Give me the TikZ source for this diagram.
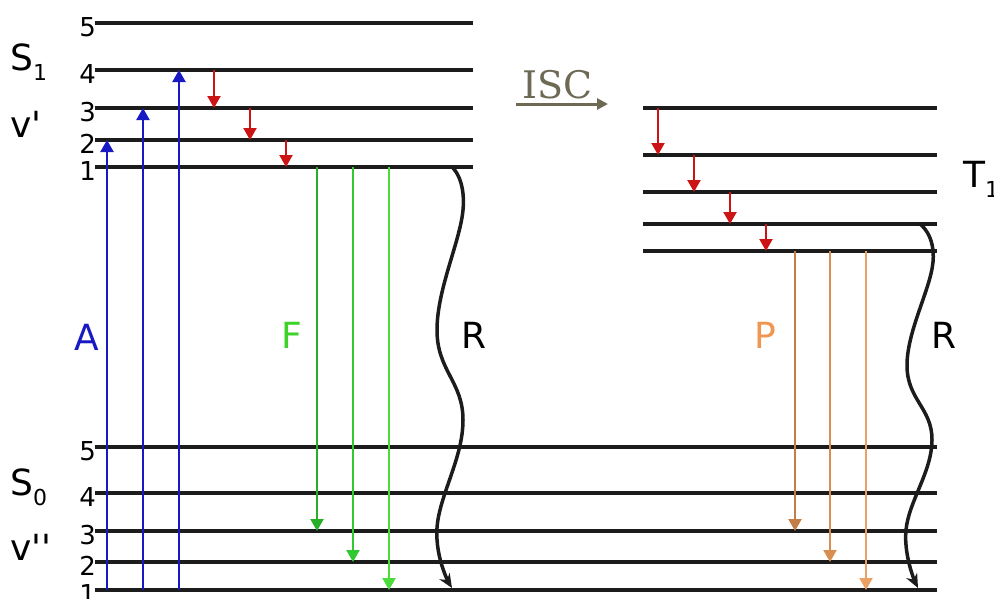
\documentclass[tikz,border=0pt]{standalone}
\usepackage{fontspec}
\setmainfont{DejaVu Sans}
\newfontfamily\iscfont{DejaVu Serif}
\usetikzlibrary{arrows.meta,calc}

\definecolor{lvl}{RGB}{28,28,28}
\definecolor{absblue}{RGB}{25,25,195}
\definecolor{vrred}{RGB}{205,20,20}
\definecolor{fgA}{RGB}{40,175,40}
\definecolor{fgB}{RGB}{50,200,50}
\definecolor{fgC}{RGB}{75,220,60}
\definecolor{flab}{RGB}{60,210,40}
\definecolor{phA}{RGB}{195,125,70}
\definecolor{phB}{RGB}{215,142,80}
\definecolor{phC}{RGB}{235,160,100}
\definecolor{plab}{RGB}{240,150,80}
\definecolor{iscgray}{RGB}{110,105,85}

\begin{document}
\begin{tikzpicture}[x=1pt,y=-1pt,
  level/.style={line width=4.5pt,color=lvl},
  num/.style={anchor=base east,inner sep=0pt,font=\fontsize{26}{28}\selectfont},
  biglab/.style={anchor=base,inner sep=0pt,font=\fontsize{36}{40}\selectfont},
  statelab/.style={anchor=base west,inner sep=0pt,font=\fontsize{36}{40}\selectfont},
  transition/.style={line width=2.2pt,-{Triangle[width=13pt,length=12pt]}},
  wave/.style={line width=3.5pt,color=lvl,-{Stealth[width=12pt,length=14pt]}},
]
\useasboundingbox (0,0) rectangle (994,598);

% ---- level anchors (left ends) ----
\foreach \n/\y in {5/23,4/70,3/108,2/140,1/167}
  \coordinate (S1-\n) at (95,\y);
\foreach \n/\y in {5/108,4/155,3/192,2/224,1/251}
  \coordinate (T1-\n) at (643,\y);
\foreach \n/\y in {5/447,4/493,3/531,2/562,1/590}
  \coordinate (S0-\n) at (95,\y);

% ---- levels ----
\foreach \n in {1,...,5}{
  \draw[level] (S1-\n) -- ++(378,0);
  \draw[level] (T1-\n) -- ++(294,0);
  \draw[level] (S0-\n) -- ++(842,0);
  \node[num] at ($(S1-\n)+(1,13)$) {\n};
  \node[num] at ($(S0-\n)+(1,13)$) {\n};
}

% ---- state labels ----
\node[statelab] (s1lab) at (10,70) {S\raisebox{-0.3em}{\fontsize{22}{24}\selectfont 1}};
\node[statelab] (v1lab) at (10,137) {v\textquotesingle};
\node[statelab] (s0lab) at (10,495) {S\raisebox{-0.3em}{\fontsize{22}{24}\selectfont 0}};
\node[statelab] (v0lab) at (10,560) {v\textquotesingle\textquotesingle};
\node[statelab] (t1lab) at (963,187) {T\raisebox{-0.3em}{\fontsize{22}{24}\selectfont 1}};

% ---- arrow columns ----
\foreach \c/\x in {a1/107,a2/143,a3/179,r1/214,r2/250,r3/286,f1/317,f2/353,f3/389,
                   t1/658,t2/694,t3/730,t4/766,p1/795,p2/830,p3/866}
  \coordinate (c\c) at (\x,0);

% absorption
\draw[transition,absblue] (ca1 |- S0-1) -- (ca1 |- S1-2);
\draw[transition,absblue] (ca2 |- S0-1) -- (ca2 |- S1-3);
\draw[transition,absblue] (ca3 |- S0-1) -- (ca3 |- S1-4);
\node[biglab,absblue] (Alab) at (87,350) {A};

% vibrational relaxation in S1
\draw[transition,vrred] (cr1 |- S1-4) -- (cr1 |- S1-3);
\draw[transition,vrred] (cr2 |- S1-3) -- (cr2 |- S1-2);
\draw[transition,vrred] (cr3 |- S1-2) -- (cr3 |- S1-1);

% fluorescence
\draw[transition,fgA] (cf1 |- S1-1) -- (cf1 |- S0-3);
\draw[transition,fgB] (cf2 |- S1-1) -- (cf2 |- S0-2);
\draw[transition,fgC] (cf3 |- S1-1) -- (cf3 |- S0-1);
\node[biglab,flab] (Flab) at (292,348) {F};

% non-radiative decay from S1
\coordinate (w1a) at (452,167);
\coordinate (w1b) at (463,210);
\coordinate (w1c) at (437,330);
\coordinate (w1d) at (463,420);
\coordinate (w1e) at (437,528);
\coordinate (w1f) at (452,588);
\draw[wave] plot[smooth,tension=0.7] coordinates {(w1a) (w1b) (w1c) (w1d) (w1e) (w1f)};
\node[biglab] (R1lab) at (474,348) {R};

% intersystem crossing
\coordinate (iscA) at (516,104);
\coordinate (iscB) at (608,104);
\draw[iscgray,line width=3pt,-{Triangle[width=11pt,length=11pt]}] (iscA) -- (iscB);
\node[anchor=base,inner sep=0pt,iscgray,font=\iscfont\fontsize{38}{40}\selectfont] (isclab) at (558,98) {ISC};

% vibrational relaxation in T1
\draw[transition,vrred] (ct1 |- T1-5) -- (ct1 |- T1-4);
\draw[transition,vrred] (ct2 |- T1-4) -- (ct2 |- T1-3);
\draw[transition,vrred] (ct3 |- T1-3) -- (ct3 |- T1-2);
\draw[transition,vrred] (ct4 |- T1-2) -- (ct4 |- T1-1);

% phosphorescence
\draw[transition,phA] (cp1 |- T1-1) -- (cp1 |- S0-3);
\draw[transition,phB] (cp2 |- T1-1) -- (cp2 |- S0-2);
\draw[transition,phC] (cp3 |- T1-1) -- (cp3 |- S0-1);
\node[biglab,plab] (Plab) at (765,348) {P};

% non-radiative decay from T1
\coordinate (w2a) at (920,224);
\coordinate (w2b) at (933,262);
\coordinate (w2c) at (907,365);
\coordinate (w2d) at (932,440);
\coordinate (w2e) at (906,530);
\coordinate (w2f) at (918,588);
\draw[wave] plot[smooth,tension=0.7] coordinates {(w2a) (w2b) (w2c) (w2d) (w2e) (w2f)};
\node[biglab] (R2lab) at (944,348) {R};
\end{tikzpicture}
\end{document}
